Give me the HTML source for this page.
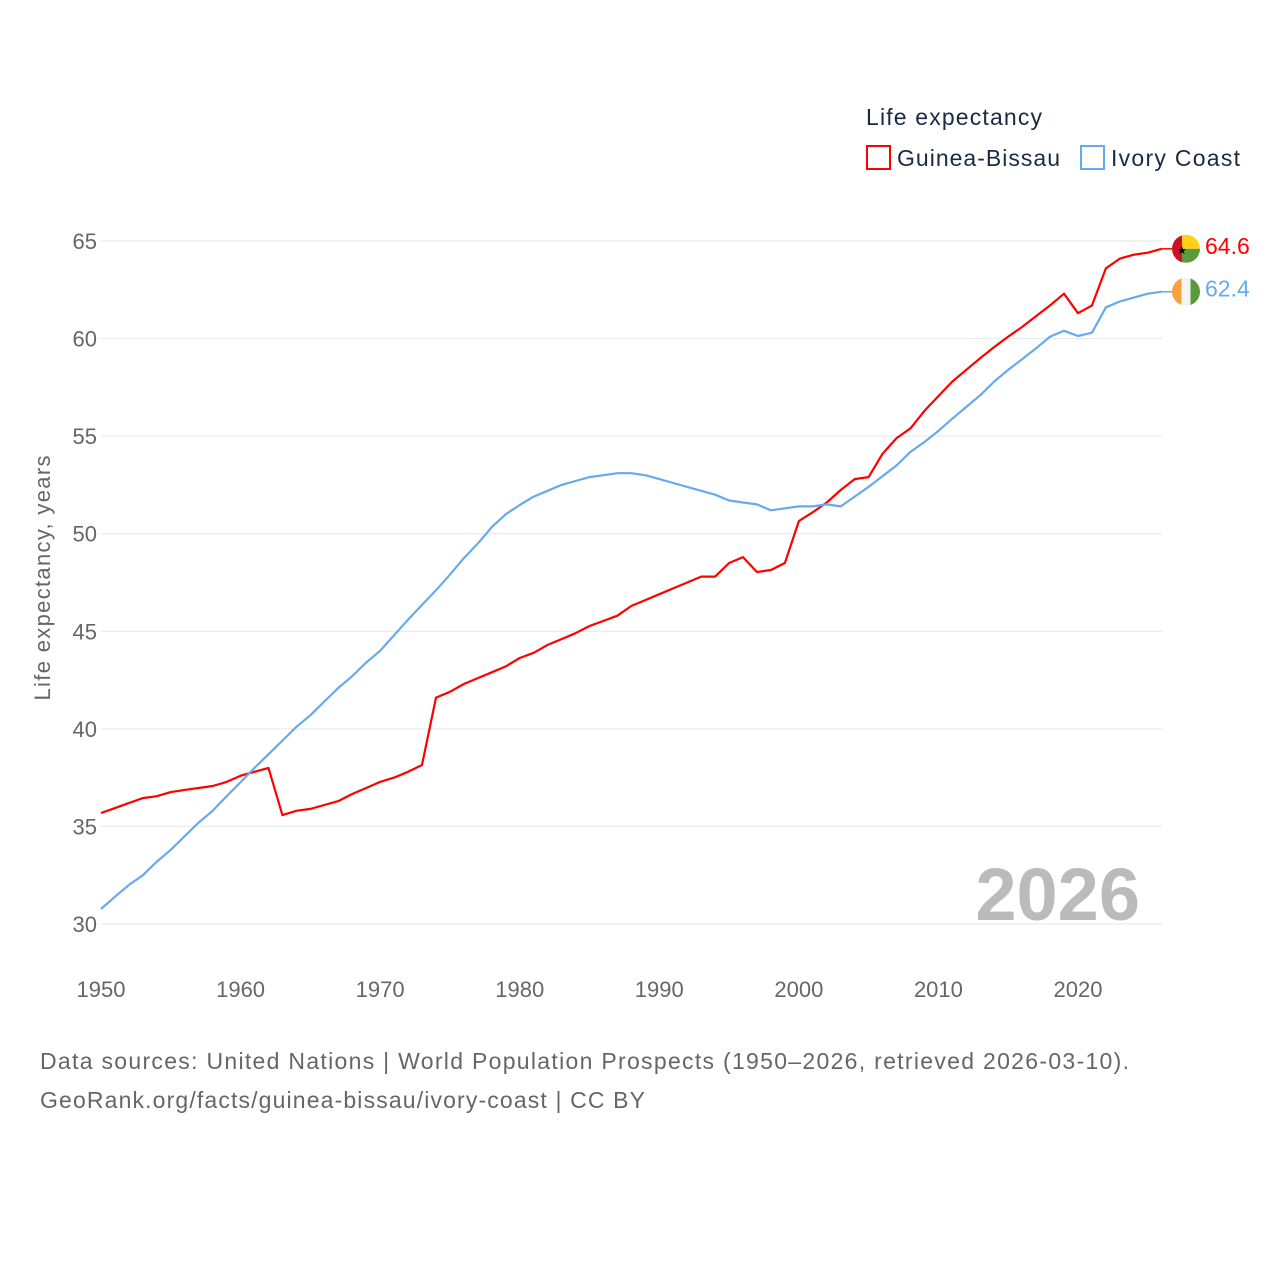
<!DOCTYPE html>
<html><head><meta charset="utf-8"><style>
body{margin:0;background:#fff;}
svg text{font-family:"Liberation Sans",sans-serif;}
</style></head><body>
<svg id="chart" width="1280" height="1280" viewBox="0 0 1280 1280">
<text x="866" y="125" font-size="23" fill="#1a2a44" textLength="176">Life expectancy</text>
<g>
<rect x="867" y="146" width="23" height="23" fill="none" stroke="#ff0000" stroke-width="2"/>
<text x="897" y="166" font-size="23" fill="#1a2a44" textLength="163">Guinea-Bissau</text></g>
<g>
<rect x="1081" y="146" width="23" height="23" fill="none" stroke="#66aaee" stroke-width="2"/>
<text x="1111" y="166" font-size="23" fill="#1a2a44" textLength="129">Ivory Coast</text></g>
<g id="grid"></g>
<g id="yticks"></g>
<g id="xticks"></g>
<text transform="translate(50,578) rotate(-90)" text-anchor="middle" font-size="22" fill="#666" textLength="245">Life expectancy, years</text>
<text x="1140" y="920" text-anchor="end" font-size="74" font-weight="bold" fill="#bbbbbb">2026</text>
<g id="series"></g>
<text x="40" y="1069" font-size="23" fill="#666" textLength="1089">Data sources: United Nations | World Population Prospects (1950–2026, retrieved 2026-03-10).</text>
<text x="40" y="1108" font-size="23" fill="#666" textLength="605">GeoRank.org/facts/guinea-bissau/ivory-coast | CC BY</text>
</svg>
<script>
const years=[];for(let y=1950;y<=2026;y++)years.push(y);
const yTicks=[30,35,40,45,50,55,60,65];
const xTicks=[1950,1960,1970,1980,1990,2000,2010,2020];
const guineaBissau=[35.69,35.94,36.2,36.45,36.55,36.76,36.87,36.97,37.07,37.28,37.6,37.8,38.0,35.58,35.8,35.9,36.1,36.3,36.66,36.97,37.28,37.5,37.8,38.15,41.6,41.9,42.3,42.6,42.9,43.2,43.63,43.9,44.3,44.6,44.9,45.27,45.53,45.8,46.3,46.6,46.9,47.2,47.5,47.8,47.8,48.5,48.8,48.04,48.14,48.5,50.65,51.1,51.6,52.24,52.8,52.9,54.1,54.9,55.4,56.3,57.05,57.8,58.4,59.0,59.57,60.1,60.6,61.15,61.7,62.3,61.3,61.7,63.6,64.1,64.3,64.4,64.6];
const ivoryCoast=[30.77,31.4,32.0,32.5,33.2,33.8,34.5,35.2,35.8,36.55,37.27,38.0,38.7,39.4,40.1,40.7,41.4,42.1,42.7,43.4,44.0,44.8,45.6,46.35,47.1,47.9,48.75,49.5,50.34,51.0,51.47,51.9,52.2,52.5,52.7,52.9,53.0,53.1,53.1,53.0,52.8,52.6,52.4,52.2,52.0,51.7,51.6,51.5,51.2,51.3,51.4,51.4,51.5,51.4,51.9,52.4,52.95,53.5,54.2,54.7,55.27,55.9,56.5,57.1,57.8,58.4,58.95,59.5,60.1,60.4,60.13,60.3,61.6,61.9,62.1,62.3,62.4];
const NS="http://www.w3.org/2000/svg";
const X=v=>101+(v-1950)*(1078-101)/70;
const Y=v=>924-(v-30)*(924-241)/35;
function mk(t,a,p){const e=document.createElementNS(NS,t);for(const k in a)e.setAttribute(k,a[k]);p.appendChild(e);return e;}
const grid=document.getElementById('grid'),yt=document.getElementById('yticks'),xt=document.getElementById('xticks'),ser=document.getElementById('series');
yTicks.forEach(v=>{
 const l=mk('line',{x1:101,x2:1162,y1:Y(v),y2:Y(v),stroke:'#e6e6e6','stroke-width':1},grid);
 
 
 const t=mk('text',{x:97,y:Y(v)+8,'text-anchor':'end','font-size':22,fill:'#666'},yt);
 t.textContent=v;
 
 
});
xTicks.forEach(v=>{
 const t=mk('text',{x:X(v),y:997,'text-anchor':'middle','font-size':22,fill:'#666'},xt);
 t.textContent=v;
 
 
});
function line(vals,color,name){
 const d=vals.map((v,i)=>(i?'L':'M')+X(years[i]).toFixed(1)+','+Y(v).toFixed(1)).join('');
 const p=mk('path',{d:d,fill:'none',stroke:color,'stroke-width':2.2,'stroke-linejoin':'round'},ser);
 
 
 const last=vals[vals.length-1],lx=X(years[years.length-1]),ly=Y(last);
 mk('line',{x1:lx,x2:1172,y1:ly,y2:ly,stroke:color,'stroke-width':1.5},ser);
 return [ly,last];
}
const [gy,gv]=line(guineaBissau,'#ff0000','guinea-bissau');
const [iy,iv]=line(ivoryCoast,'#66aaee','ivory-coast');
const cx=1186;
function flag(y,parts,name){
 const g=mk('g',{},ser);
 
 
 const cp=mk('clipPath',{id:'c'+name},g);
 mk('circle',{cx:cx,cy:y,r:14},cp);
 const cg=mk('g',{'clip-path':'url(#c'+name+')'},g);
 parts.forEach(p=>mk('rect',Object.assign({},p,{x:cx-14+p.x,y:y-14+p.y}),cg));
 return g;
}
const gf=flag(gy,[{x:0,y:0,width:10,height:28,fill:'#ce1126'},{x:10,y:0,width:18,height:14,fill:'#fcd116'},{x:10,y:14,width:18,height:14,fill:'#5a9a3a'}],'gb');
mk('text',{x:cx-9,y:gy+5,'font-size':11,fill:'#000'},gf).textContent='★';
flag(iy,[{x:0,y:0,width:9.5,height:28,fill:'#f7a23a'},{x:9.5,y:0,width:9,height:28,fill:'#f4f4f4'},{x:18.5,y:0,width:9.5,height:28,fill:'#5a9a3a'}],'ic');
const t1=mk('text',{x:1205,y:gy+5,'font-size':23,fill:'#ff0000'},ser);t1.textContent=gv.toFixed(1);


const t2=mk('text',{x:1205,y:iy+5,'font-size':23,fill:'#66aaee'},ser);t2.textContent=iv.toFixed(1);


</script>
</body></html>
